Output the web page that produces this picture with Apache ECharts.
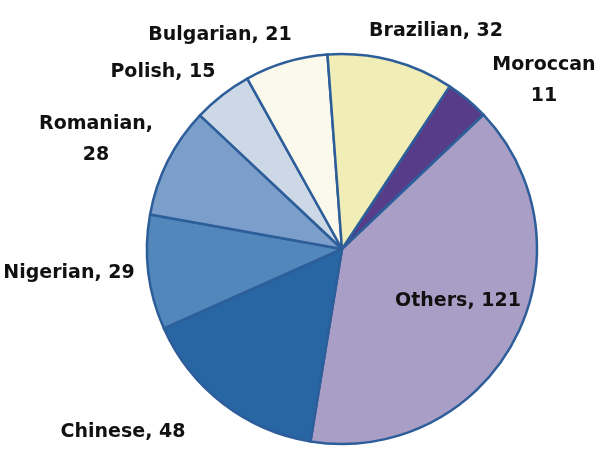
<!DOCTYPE html>
<html>
<head>
<meta charset="utf-8">
<script src="https://cdn.jsdelivr.net/npm/echarts@6/dist/echarts.min.js"></script>
<style>html,body{margin:0;padding:0;background:#fff}#c{width:607px;height:458px}</style>
</head>
<body>
<div id="c"></div>
<script>
// Data (clockwise from the Moroccan slice)
const categories = ['Moroccan', 'Others', 'Chinese', 'Nigerian', 'Romanian', 'Polish', 'Bulgarian', 'Brazilian'];
const values = [11, 121, 48, 29, 28, 15, 21, 32];

// Styles
const colors = ['#573c8a', '#a99fc6', '#2766a3', '#5287bb', '#7b9ecb', '#cdd8e6', '#fbf9ec', '#f0eeb6'];
const labelSep = ['\n', ', ', ', ', ', ', ',\n', ', ', ', ', ', '];
const labelPos = [[544, 81], [458, 301], [123, 432], [69, 273], [96, 140], [163, 72], [220, 35], [436, 31]];

const chart = echarts.init(document.getElementById('c'), null, {renderer: 'canvas'});
chart.setOption({
  animation: false,
  backgroundColor: '#ffffff',
  series: [{
    type: 'pie',
    center: [342, 249],
    radius: [0, 195],
    startAngle: 56.5,
    clockwise: true,
    avoidLabelOverlap: false,
    itemStyle: {borderColor: '#2d5e9a', borderWidth: 2.5},
    label: {
      show: true,
      color: '#111111',
      fontFamily: 'DejaVu Sans',
      fontWeight: 'bold',
      fontSize: 19,
      lineHeight: 31,
      align: 'center',
      formatter: p => p.name + labelSep[p.dataIndex] + p.value
    },
    labelLine: {show: false},
    labelLayout: p => ({
      x: labelPos[p.dataIndex][0],
      y: labelPos[p.dataIndex][1],
      align: 'center',
      verticalAlign: 'middle'
    }),
    emphasis: {disabled: true},
    data: categories.map((c, i) => ({name: c, value: values[i], itemStyle: {color: colors[i]}}))
  }]
});
</script>
</body>
</html>
